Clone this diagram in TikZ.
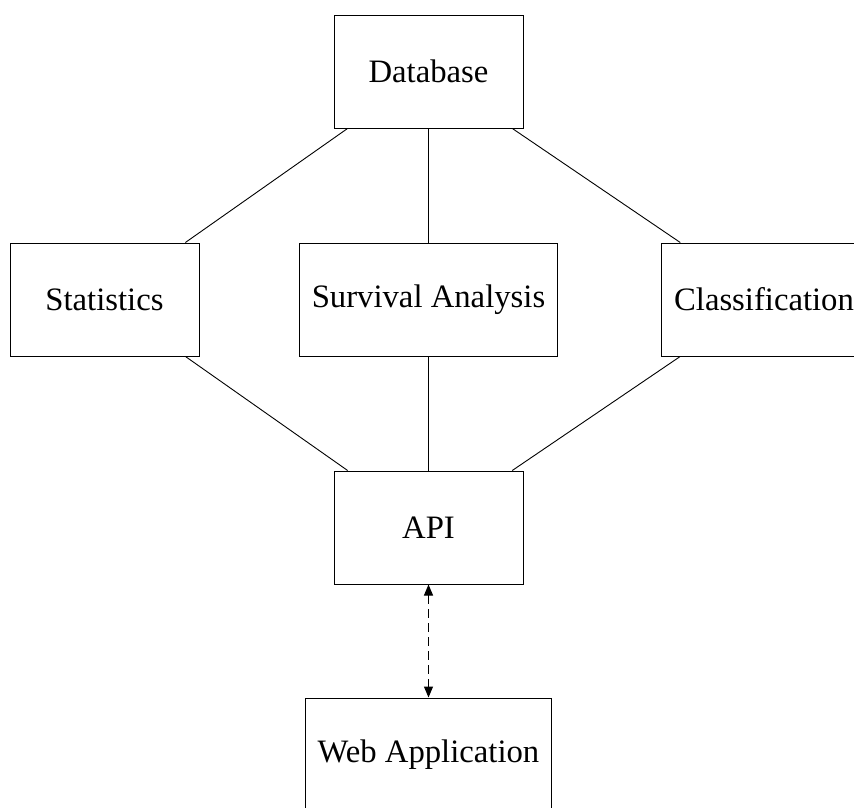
\documentclass[tikz,border=0pt]{standalone}
\usepackage{fontspec}
\setmainfont{Liberation Serif}
\usetikzlibrary{arrows.meta,positioning}

\begin{document}
\begin{tikzpicture}[x=1pt,y=-1pt,font=\fontsize{32.7}{39}\selectfont,
  box/.style={draw,line width=1pt,minimum width=189pt,minimum height=113pt,inner xsep=12.5pt}]
\useasboundingbox (0,0) rectangle (854,807);
\node[box] (db) at (428.5,71.5) {Database};
\node[box] (stats) at (104.5,299.5) {Statistics};
\node[box] (surv) at (428.5,299.5) {Survival Analysis};
\node[box] (clf) at (764,299.5) {Classification};
\node[box] (api) at (428.5,527.5) {API};
\node[box] (web) at (428.5,754.5) {Web Application};
\foreach \n in {stats,surv,clf} {\draw[line width=0.9pt] (db)--(\n); \draw[line width=0.9pt] (\n)--(api);}
\draw[{Triangle[length=11pt,width=9pt]}-{Triangle[length=11pt,width=9pt]},dash pattern=on 9pt off 5pt,line width=1pt] (api)--(web);
\end{tikzpicture}
\end{document}
